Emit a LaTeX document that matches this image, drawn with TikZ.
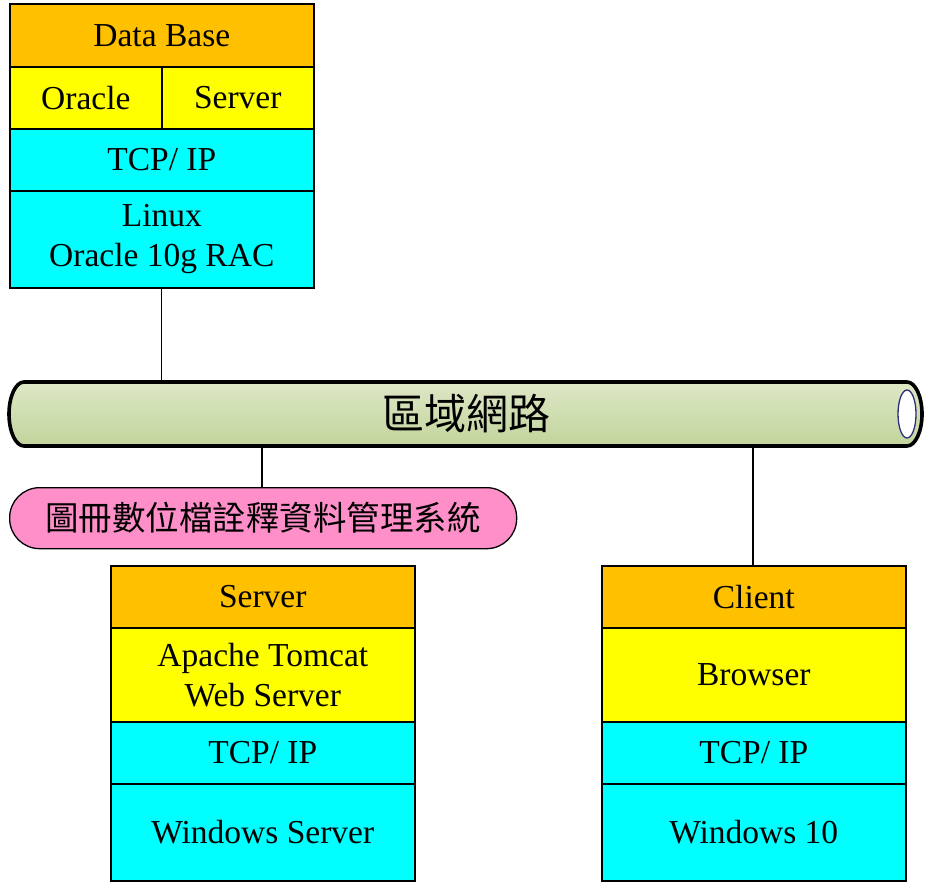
\documentclass[tikz,border=0pt]{standalone}
\usepackage{fontspec}
\setmainfont{Liberation Serif}
\newfontfamily\cjk{Noto Sans CJK TC}
\definecolor{orng}{HTML}{FFC000}
\definecolor{yel}{HTML}{FFFF00}
\definecolor{cya}{HTML}{00FFFF}
\definecolor{pnk}{HTML}{FF8FC8}
\definecolor{pipetop}{HTML}{DDE7C6}
\definecolor{pipebot}{HTML}{C2D49C}
\definecolor{navy}{HTML}{2E2E7A}
\tikzset{
  layer/.style={draw=black, line width=1.6pt, anchor=north west, inner sep=0pt,
    font=\fontsize{33.5}{40}\selectfont, align=center},
  conn/.style={draw=black, line width=1.3pt}
}
\begin{document}
\begin{tikzpicture}[x=1pt,y=-1pt]
\useasboundingbox (0,0) rectangle (925,883);
% Database stack
\node[layer, fill=orng, minimum width=304, minimum height=63] (db1) at (9,3) {Data Base};
\node[layer, fill=yel, minimum width=152, minimum height=62] (db2a) at (9,66) {Oracle};
\node[layer, fill=yel, minimum width=152, minimum height=62] (db2b) at (161,66) {Server};
\node[layer, fill=cya, minimum width=304, minimum height=62] (db3) at (9,128) {TCP/ IP};
\node[layer, fill=cya, minimum width=304, minimum height=97] (db4) at (9,190) {Linux\\Oracle 10g RAC};
% Pipe
\path[top color=pipetop, bottom color=pipebot] (24,382) -- (907,382)
  arc[start angle=-90, end angle=90, x radius=15, y radius=32] -- (24,446)
  arc[start angle=90, end angle=270, x radius=15, y radius=32] -- cycle;
\draw[line width=3.6pt, line join=round] (24,382) -- (907,382)
  arc[start angle=-90, end angle=90, x radius=15, y radius=32] -- (24,446)
  arc[start angle=90, end angle=270, x radius=15, y radius=32] -- cycle;
\draw[navy, fill=white, line width=1.3pt] (907,414) ellipse[x radius=9, y radius=24];
\node[font=\cjk\fontsize{42}{46}\selectfont, inner sep=0pt] (net) at (466,414) {區域網路};
\coordinate (pdb) at (161,382);
\coordinate (psys) at (262,446);
\coordinate (pcli) at (753,446);
% System label
\node[draw=black, line width=1.3pt, fill=pnk, rounded corners=30, minimum width=507, minimum height=61,
  inner sep=0pt, anchor=north west, font=\cjk\fontsize{33.5}{38}\selectfont] (sys) at (9,487) {圖冊數位檔詮釋資料管理系統};
% Server stack
\node[layer, fill=orng, minimum width=304, minimum height=62] (sv1) at (110,565) {Server};
\node[layer, fill=yel, minimum width=304, minimum height=94] (sv2) at (110,627) {Apache Tomcat\\Web Server};
\node[layer, fill=cya, minimum width=304, minimum height=62] (sv3) at (110,721) {TCP/ IP};
\node[layer, fill=cya, minimum width=304, minimum height=97] (sv4) at (110,783) {Windows Server};
% Client stack
\node[layer, fill=orng, minimum width=304, minimum height=62] (cl1) at (601,565) {Client};
\node[layer, fill=yel, minimum width=304, minimum height=94] (cl2) at (601,627) {Browser};
\node[layer, fill=cya, minimum width=304, minimum height=62] (cl3) at (601,721) {TCP/ IP};
\node[layer, fill=cya, minimum width=304, minimum height=97] (cl4) at (601,783) {Windows 10};
% Connectors
\draw[conn] (db4.south) -- (db4.south |- pdb);
\draw[conn] (psys) -- (sys.north -| psys);
\draw[conn] (pcli) -- (cl1.north -| pcli);
\end{tikzpicture}
\end{document}
